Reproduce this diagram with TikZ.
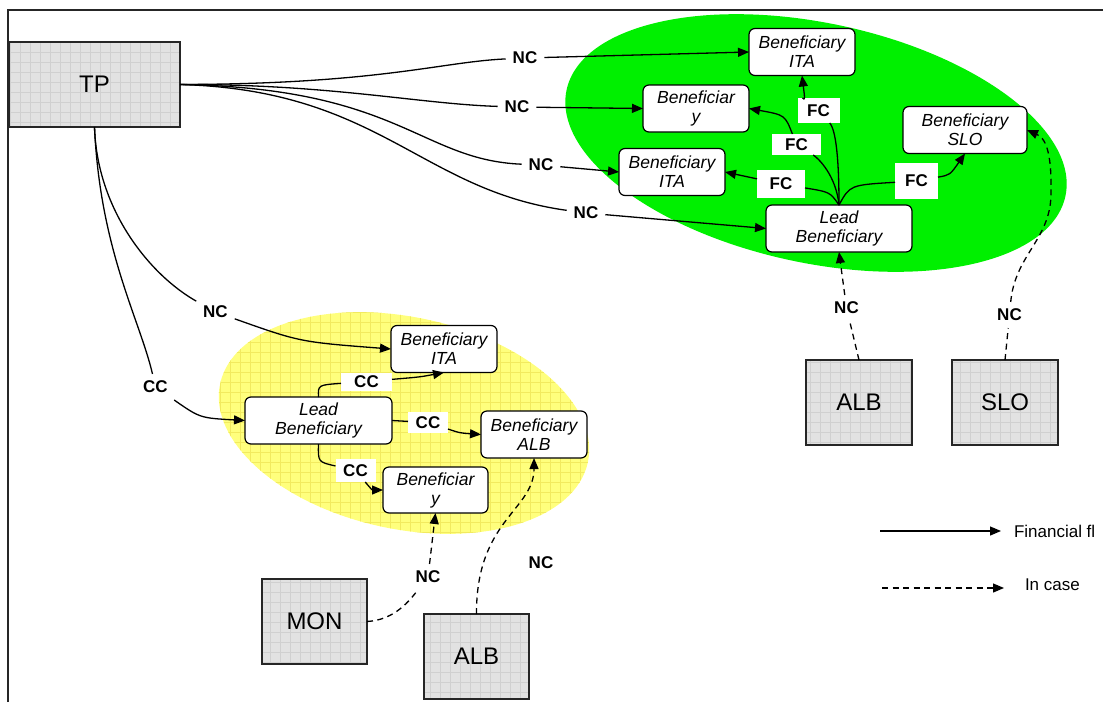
\documentclass[tikz,border=0pt]{standalone}
\usepackage{fontspec}
\setmainfont{Liberation Sans}
\usetikzlibrary{arrows.meta,patterns,patterns.meta}

\definecolor{leadgreen}{RGB}{0,240,0}
\definecolor{lightyellow}{RGB}{255,255,125}
\definecolor{gridyellow}{RGB}{242,234,95}
\definecolor{boxgray}{RGB}{226,226,226}
\definecolor{gridgray}{RGB}{208,208,208}

\begin{document}
\begin{tikzpicture}[x=1pt, y=-1pt, every node/.style={outer sep=0pt}]

\useasboundingbox (0,0) rectangle (1103,702);

% Partner (country)
\tikzstyle{partner}=[draw=black!85, line width=1.2pt, preaction={fill=boxgray},
  preaction={pattern color=gridgray, pattern={Hatch[angle=0,distance=10pt,line width=0.5pt]}},
  minimum width=106pt, minimum height=85pt, font=\fontsize{24}{28}\selectfont]

% Beneficiary
\tikzstyle{benef}=[draw, fill=white, rounded corners=6pt, line width=1.2pt, align=center,
  minimum width=106pt, minimum height=47pt, inner sep=2pt, font=\fontsize{17.5}{19}\selectfont\itshape]

% Labels
\tikzstyle{nclabel}=[inner sep=7pt, font=\bfseries\fontsize{17}{19}\selectfont]
\tikzstyle{fcbox}=[fill=white, inner sep=0pt, minimum width=44pt, minimum height=24pt, font=\bfseries\fontsize{17}{19}\selectfont]

% Flows
\tikzstyle{flow}=[line width=1.3pt, -{Triangle[length=11pt,width=9pt]}]
\tikzstyle{incase}=[flow, dash pattern=on 6pt off 4.5pt]

% frame
\draw[line width=1.3pt, black!85] (8,702) -- (8,10) -- (1103,10);

%%%%%%%%%%%%%%%%%%%%%%%%%%%%%%%%%%%%%%%%%%%%%%%%%%%%%%%%%%%%%%%%%%%%
%
%        Partnerships
%
\fill[leadgreen, shift={(816,143)}, rotate=-12] (0,0) ellipse [x radius=255pt, y radius=120pt];
\path[fill=lightyellow, postaction={pattern color=gridyellow, pattern={Hatch[angle=0,distance=10pt,line width=0.6pt]}},
  shift={(404,423)}, rotate=-12] (0,0) ellipse [x radius=188pt, y radius=106pt];

%%%%%%%%%%%%%%%%%%%%%%%%%%%%%%%%%%%%%%%%%%%%%%%%%%%%%%%%%%%%%%%%%%%%
%
%        Countries
%
\node (tp)   [partner, minimum width=171pt] at (94.5,84.5)  {TP};
\node (alb1) [partner] at (859,402.5)   {ALB};
\node (slo)  [partner] at (1005,402.5)  {SLO};
\node (mon)  [partner, minimum width=105pt] at (314.5,621.5) {MON};
\node (alb2) [partner, minimum width=105pt] at (476.5,656.5) {ALB};

%%%%%%%%%%%%%%%%%%%%%%%%%%%%%%%%%%%%%%%%%%%%%%%%%%%%%%%%%%%%%%%%%%%%
%
%        Beneficiaries
%
% green
\node (gita)  [benef] at (802,52)    {Beneficiary\\ITA};
\node (gy)    [benef] at (696,108.5) {Beneficiar\\y};
\node (gita2) [benef] at (672,172)   {Beneficiary\\ITA};
\node (gslo)  [benef, minimum width=124pt] at (965,130) {Beneficiary\\SLO};
\node (glead) [benef, minimum width=146pt] at (839,228.5) {Lead\\Beneficiary};
% yellow
\node (yita)  [benef] at (444,349)   {Beneficiary\\ITA};
\node (ylead) [benef, minimum width=147pt] at (318.5,420.5) {Lead\\Beneficiary};
\node (yalb)  [benef] at (534,434.5) {Beneficiary\\ALB};
\node (yy)    [benef, minimum width=105pt, minimum height=46pt] at (435.5,490) {Beneficiar\\y};

%%%%%%%%%%%%%%%%%%%%%%%%%%%%%%%%%%%%%%%%%%%%%%%%%%%%%%%%%%%%%%%%%%%%
%
%        Labels
%
\node (n1)  [nclabel] at (525,58)  {NC};
\node (n2)  [nclabel] at (517,107) {NC};
\node (n3)  [nclabel] at (541,165) {NC};
\node (n4)  [nclabel] at (586,213) {NC};
\node (ncy) [nclabel] at (215.5,312) {NC};
\node (ccy) [nclabel] at (155.5,387) {CC};

\node (f1) [fcbox, minimum width=42pt, minimum height=25pt] at (818.5,110.5) {FC};
\node (f2) [fcbox, minimum width=49pt, minimum height=21pt] at (796.5,144.5) {FC};
\node (f3) [fcbox, minimum width=48pt, minimum height=28pt] at (781,184)     {FC};
\node (f4) [fcbox, minimum width=43pt, minimum height=36pt] at (916.5,181)   {FC};

\node (c1) [fcbox, minimum width=51pt, minimum height=18pt] at (366.5,381.5) {CC};
\node (c2) [fcbox, minimum width=40pt, minimum height=21pt] at (428,422.5)   {CC};
\node (c3) [fcbox, minimum width=40pt, minimum height=23pt] at (355.5,470.5) {CC};

\node (nmon)  [nclabel] at (428,577)    {NC};
\node (nalb2) [nclabel] at (541,563)    {NC};
\node (nalb1) [nclabel] at (846.5,308)  {NC};
\node (nslo)  [nclabel] at (1009.5,315) {NC};

%%%%%%%%%%%%%%%%%%%%%%%%%%%%%%%%%%%%%%%%%%%%%%%%%%%%%%%%%%%%%%%%%%%%
%
%        Financial flows
%
% TP -> green
\draw[flow] (tp.east) .. controls (380,84) and (440,62) .. (n1) -- (gita.west);
\draw[flow] (tp.east) .. controls (330,84) and (420,104) .. (n2) -- (gy.west);
\draw[flow] (tp.east) .. controls (400,88) and (420,160) .. (n3) -- (gita2.west);
\draw[flow] (tp.east) .. controls (380,90) and (420,190) .. (n4) -- (glead.west);

% TP -> yellow
\draw[flow] (tp.south) .. controls (97,210) and (150,275) .. (ncy) .. controls (300,342) .. (yita.west);
\draw[flow] (tp.south) .. controls (100,250) and (140,320) .. (ccy) .. controls (200,418) .. (ylead.west);

% green lead
\draw[flow] (glead.north) .. controls (839,160) and (836,130) .. (f1) .. controls (805,100) .. (gita.south);
\draw[flow] (glead.north) .. controls (836,175) and (818,158) .. (f2) .. controls (785,115) .. (gy.east);
\draw[flow] (glead.north) .. controls (830,192) .. (f3) -- (gita2.east);
\draw[flow] (glead.north) .. controls (850,185) .. (f4) .. controls (950,175) .. (gslo.south);

% yellow lead
\draw[flow] (ylead.north) .. controls (318,385) .. (c1) .. controls (420,377) .. (yita.south);
\draw[flow] (ylead.east) -- (c2) .. controls (460,433) .. (yalb.west);
\draw[flow] (ylead.south) .. controls (318,462) .. (c3) .. controls (372,490) .. (yy.west);

%%%%%%%%%%%%%%%%%%%%%%%%%%%%%%%%%%%%%%%%%%%%%%%%%%%%%%%%%%%%%%%%%%%%
%
%        In case
%
\coordinate (sloBend) at (1051,195);

\draw[incase] (mon.east) .. controls (395,620) and (410,600) .. (nmon) -- (yy.south);
\draw[incase] (alb2.north) .. controls (476,520) and (534,510) .. (yalb.south);
\draw[incase] (alb1.north) -- (nalb1) -- (glead.south);
\draw[incase] (slo.north) -- (nslo) .. controls (1015,255) and (1050,240) .. (sloBend)
  .. controls (1052,150) and (1045,138) .. (gslo.east);

%%%%%%%%%%%%%%%%%%%%%%%%%%%%%%%%%%%%%%%%%%%%%%%%%%%%%%%%%%%%%%%%%%%%
%
%        Legend
%
\coordinate (fin0)  at (880,531);
\coordinate (fin1)  at (1001,531);
\coordinate (case0) at (882,588);
\coordinate (case1) at (1004,588);

\draw[flow]   (fin0)  -- (fin1);
\draw[incase] (case0) -- (case1);
\node (finlbl)  [anchor=west, inner sep=0pt, font=\fontsize{17}{19}\selectfont] at (1014,531) {Financial fl};
\node (caselbl) [anchor=west, inner sep=0pt, font=\fontsize{17}{19}\selectfont] at (1025,585) {In case};

\end{tikzpicture}
\end{document}
